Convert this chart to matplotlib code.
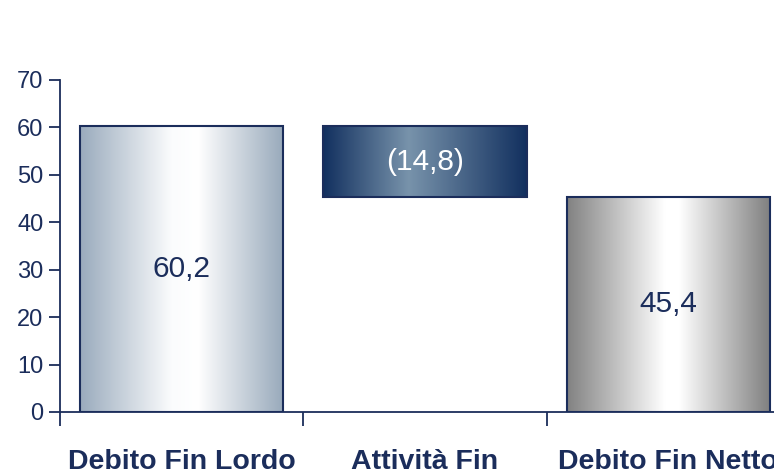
import numpy as np
import matplotlib
matplotlib.use("Agg")
import matplotlib.pyplot as plt
from matplotlib.colors import LinearSegmentedColormap

categories = ["Debito Fin Lordo", "Attività Fin", "Debito Fin Netto"]
values = [60.2, -14.8, 45.4]
labels = ["60,2", "(14,8)", "45,4"]
is_total = [True, False, True]

NAVY = "#1b2d5b"
plt.rcParams['font.family'] = ['Liberation Sans', 'DejaVu Sans']

fig = plt.figure(figsize=(7.74, 4.74), dpi=100)
ax = fig.add_axes([60/774, 1-412/474, (790-60)/774, (412-80)/474])

# waterfall geometry from data
bottoms, heights = [], []
running = 0.0
for v, t in zip(values, is_total):
    if t:
        bottoms.append(0.0); heights.append(v); running = v
    else:
        new = running + v
        bottoms.append(min(running, new)); heights.append(abs(v)); running = new

x = np.arange(len(categories))
width = 0.835
bars = ax.bar(x, heights, bottom=bottoms, width=width, facecolor="none",
              edgecolor=NAVY, linewidth=1.5, zorder=3)

grads = [
    [(0, "#9aabbd"), (0.45, "#fbfcfd"), (0.58, "#ffffff"), (1, "#98a9bb")],
    [(0, "#12305f"), (0.42, "#7893ab"), (1, "#12305f")],
    [(0, "#828282"), (0.48, "#ffffff"), (0.55, "#ffffff"), (1, "#7f7f7f")],
]
for b, g in zip(bars, grads):
    cmap = LinearSegmentedColormap.from_list("g", g)
    x0, y0 = b.get_x(), b.get_y()
    w, h = b.get_width(), b.get_height()
    img = ax.imshow(np.linspace(0, 1, 256).reshape(1, -1), cmap=cmap, aspect="auto",
                    extent=[x0, x0 + w, y0, y0 + h], zorder=2, interpolation="bilinear")
    img.set_clip_path(b)

txt_colors = [NAVY, "white", NAVY]
for b, lab, c in zip(bars, labels, txt_colors):
    ax.text(b.get_x() + b.get_width()/2, b.get_y() + b.get_height()/2, lab,
            ha="center", va="center", fontsize=21.5, color=c, zorder=4)

ax.set_xlim(-0.5, len(categories) - 0.5)
ax.set_ylim(0, 70)
ax.set_yticks(np.arange(0, 71, 10))
ax.set_xticks(np.arange(-0.5, len(categories), 1.0))
ax.set_xticklabels([])
ax.tick_params(axis="y", direction="out", length=8, width=1.3, colors=NAVY, labelsize=17, pad=4)
ax.tick_params(axis="x", direction="out", length=10, width=1.3, colors=NAVY)
for s in ["top", "right"]:
    ax.spines[s].set_visible(False)
for s in ["left", "bottom"]:
    ax.spines[s].set_color(NAVY)
    ax.spines[s].set_linewidth(1.3)

for xi, cat in zip(x, categories):
    ax.annotate(cat, xy=(xi, 0), xycoords=("data", "axes fraction"),
                xytext=(0, -50), textcoords="offset pixels",
                ha="center", va="center", fontsize=20.5, fontweight="bold", color=NAVY)

fig.savefig("out.png", dpi=100)
